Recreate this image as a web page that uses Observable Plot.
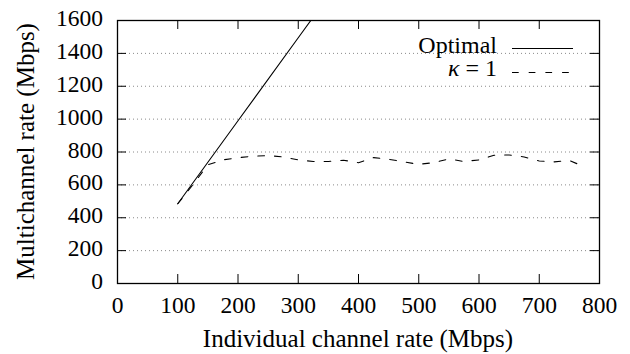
<!DOCTYPE html>
<html>
<head>
<meta charset="utf-8">
<script src="https://cdn.jsdelivr.net/npm/d3@7"></script>
<script src="https://cdn.jsdelivr.net/npm/@observablehq/plot@0.6"></script>
<style>
  html, body { margin: 0; padding: 0; background: #fff; }
  #chart { width: 630px; height: 354px; }
  #chart svg text { font-family: "Liberation Serif", "Times New Roman", serif !important; }
</style>
</head>
<body>
<div id="chart"></div>
<script>
// Individual channel rate (Mbps), tick values
const xTicks = [0, 100, 200, 300, 400, 500, 600, 700, 800];
const yTicks = [0, 200, 400, 600, 800, 1000, 1200, 1400, 1600];

// Optimal multichannel rate
const optimalX = [100, 200, 300, 400];
const optimalY = [485, 990, 1495, 2000];

// kappa = 1 multichannel rate
const kappaX = [100, 125, 150, 175, 200, 225, 250, 275, 300, 325, 350, 375, 400, 425,
                450, 475, 500, 525, 550, 575, 600, 625, 650, 675, 700, 725, 750, 775];
const kappaY = [485, 600, 722, 752, 765, 775, 778, 770, 752, 742, 742, 750, 735, 766,
                756, 740, 725, 735, 758, 742, 752, 780, 782, 770, 745, 740, 748, 710];

const optimal = optimalX.map((x, i) => ({x, y: optimalY[i]}));
const kappa = kappaX.map((x, i) => ({x, y: kappaY[i]}));

const W = 630, H = 354, mL = 117, mR = 31, mT = 20, mB = 71;
const innerW = W - mL - mR, innerH = H - mT - mB;
const tickLen = 9;
const dash = "6.7,10";
const font = "Liberation Serif";

const svg = Plot.plot({
  width: W, height: H,
  marginLeft: mL, marginRight: mR, marginTop: mT, marginBottom: mB,
  x: {domain: [0, 800]},
  y: {domain: [0, 1600]},
  style: {fontFamily: font, fontSize: "23.5px", background: "white", color: "black"},
  marks: [
    Plot.gridY(yTicks.slice(1, -1), {stroke: "#8a8a8a", strokeOpacity: 1, strokeWidth: 1, strokeDasharray: "1,3"}),
    // inward ticks on all four sides
    Plot.tickX(xTicks, {x: d => d, insetTop: innerH - tickLen, stroke: "black"}),
    Plot.tickX(xTicks, {x: d => d, insetBottom: innerH - tickLen, stroke: "black"}),
    Plot.tickY(yTicks, {y: d => d, insetRight: innerW - tickLen, stroke: "black"}),
    Plot.tickY(yTicks, {y: d => d, insetLeft: innerW - tickLen, stroke: "black"}),
    Plot.axisX(xTicks, {tickSize: 0, tickPadding: 13, label: null, fontSize: 23.5, tickFormat: d3.format("d")}),
    Plot.axisY(yTicks, {tickSize: 0, tickPadding: 14.5, label: null, fontSize: 23.5, dy: -2, tickFormat: d3.format("d")}),
    Plot.line(optimal, {x: "x", y: "y", stroke: "black", strokeWidth: 1.1, clip: true}),
    Plot.line(kappa, {x: "x", y: "y", stroke: "black", strokeWidth: 1.1, strokeDasharray: dash, clip: true}),
    Plot.frame({stroke: "black", strokeWidth: 1.3})
  ]
});

const s = d3.select(svg);

// axis titles
s.append("text")
  .attr("x", mL + innerW / 2).attr("y", 346.5)
  .attr("text-anchor", "middle")
  .attr("font-size", 25)
  .text("Individual channel rate (Mbps)");

s.append("text")
  .attr("transform", `translate(33.5,${mT + innerH / 2}) rotate(-90)`)
  .attr("text-anchor", "middle")
  .attr("font-size", 25)
  .text("Multichannel rate (Mbps)");

// key
const key = s.append("g").attr("font-size", 24);
key.append("text").attr("x", 497).attr("y", 53.3).attr("text-anchor", "end").text("Optimal");
const k = key.append("text").attr("x", 497).attr("y", 75.5).attr("text-anchor", "end");
k.append("tspan").attr("font-style", "italic").text("κ");
k.append("tspan").text(" = 1");
key.append("line").attr("x1", 512).attr("x2", 573).attr("y1", 48.5).attr("y2", 48.5)
  .attr("stroke", "black").attr("stroke-width", 1.1);
key.append("line").attr("x1", 512).attr("x2", 570).attr("y1", 72.5).attr("y2", 72.5)
  .attr("stroke", "black").attr("stroke-width", 1.1).attr("stroke-dasharray", dash);

document.getElementById("chart").append(svg);
</script>
</body>
</html>
